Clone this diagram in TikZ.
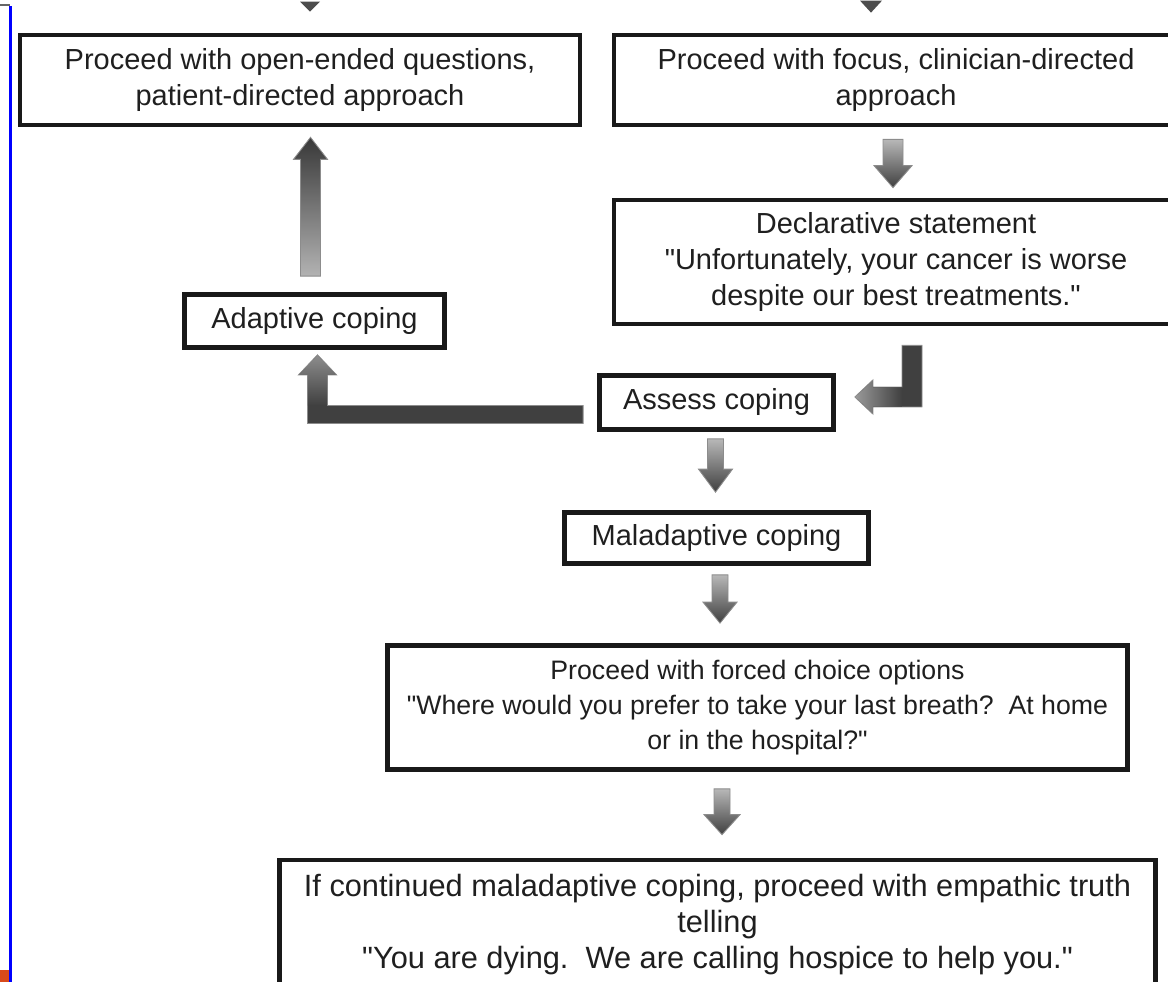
\documentclass[tikz,border=0pt]{standalone}
\usepackage{fontspec}
\setmainfont{Liberation Sans}
\usetikzlibrary{calc}
\def\pxu{0.02cm}
\def\pp{0.569055pt}
\def\q{\textquotedbl}
\definecolor{edgeorange}{RGB}{216,74,27}
% vertical block arrow: #1 start of shaft, #2 tip, #3 half shaft, #4 half head, #5 signed head length (px), #6 style
\newcommand\vblock[6]{%
  \shade[#6] let \p1=(#1), \p2=(#2) in
   ({\x1-#3*\pp},{\y1}) -- ({\x1-#3*\pp},{\y2+(#5)*\pp}) -- ({\x1-#4*\pp},{\y2+(#5)*\pp}) -- ({\x1},{\y2})
   -- ({\x1+#4*\pp},{\y2+(#5)*\pp}) -- ({\x1+#3*\pp},{\y2+(#5)*\pp}) -- ({\x1+#3*\pp},{\y1}) -- cycle;}
\begin{document}
\begin{tikzpicture}[x=0.02cm,y=-0.02cm,
  box/.style={draw=black!90, line width=2.7pt, fill=white, align=center, inner sep=0pt,
    font=\fontsize{16.5pt}{20.5pt}\selectfont, text=black!88},
  downshade/.style={top color=black!28, bottom color=black!75, draw=black!45, line width=0.5pt},
  upshade/.style={top color=black!78, bottom color=black!30, draw=black!45, line width=0.5pt},
  darkfill/.style={fill=black!75, draw=black!45, line width=0.5pt}]
\useasboundingbox (0,0) rectangle (1168,982);

% page edge marks
\fill[blue] (9,6) rectangle (12,982);
\fill[edgeorange] (0,970) rectangle (9,982);
\draw[black!60, line width=0.6pt] (0,5) -- (10,5);

% boxes
\node[box, minimum width=560*\pxu, minimum height=90*\pxu] (open) at (300,80)
  {Proceed with open-ended questions,\\patient-directed approach};
\node[box, minimum width=564*\pxu, minimum height=90*\pxu] (focus) at (896,80)
  {Proceed with focus, clinician-directed\\approach};
\node[box, minimum width=564*\pxu, minimum height=124*\pxu] (decl) at (896,262)
  {Declarative statement\\\q Unfortunately, your cancer is worse\\despite our best treatments.\q};
\node[box, minimum width=260*\pxu, minimum height=53*\pxu] (adapt) at (314.5,321)
  {Adaptive coping};
\node[box, minimum width=234*\pxu, minimum height=54*\pxu] (assess) at (716.5,402.5)
  {Assess coping};
\node[box, minimum width=304*\pxu, minimum height=51*\pxu] (mal) at (716.5,538)
  {Maladaptive coping};
\node[box, minimum width=740*\pxu, minimum height=124*\pxu, font=\fontsize{15.2pt}{20pt}\selectfont] (forced) at (757.5,707.5)
  {Proceed with forced choice options\\\q Where would you prefer to take your last breath?\ \ At home\\or in the hospital?\q};
\node[box, minimum width=876*\pxu, minimum height=130*\pxu, font=\fontsize{17.5pt}{20.5pt}\selectfont] (last) at (717.5,925)
  {If continued maladaptive coping, proceed with empathic truth\\telling\\\q You are dying.\ \ We are calling hospice to help you.\q};

% cut-off arrow tips at the top edge
\coordinate (f1) at ($(open.north)+(10,-21)$);
\coordinate (f2) at ($(focus.north)+(-25,-20)$);
\fill[black!70] ($(f1)+(-10,-10)$) -- ($(f1)+(10,-10)$) -- (f1) -- cycle;
\fill[black!70] ($(f2)+(-11,-12)$) -- ($(f2)+(11,-12)$) -- (f2) -- cycle;

% straight block arrows
\coordinate (u1s) at ($(adapt.north)+(-4,-16)$);
\coordinate (u1t) at ($(open.south)+(10,10)$);
\vblock{u1s}{u1t}{10}{17}{-22}{upshade}

\coordinate (d1s) at ($(focus.south)+(-3,12)$);
\coordinate (d1t) at ($(decl.north)+(-3,-10)$);
\vblock{d1s}{d1t}{10}{19}{22}{downshade}

\coordinate (d2s) at ($(assess.south)+(-1,7)$);
\coordinate (d2t) at ($(mal.north)+(-1,-18)$);
\vblock{d2s}{d2t}{8}{17}{23}{downshade}

\coordinate (d3s) at ($(mal.south)+(3.5,9)$);
\coordinate (d3t) at ($(forced.north)+(-37.5,-20)$);
\vblock{d3s}{d3t}{8}{17}{21}{downshade}

\coordinate (d4s) at ($(forced.south)+(-35.5,17)$);
\coordinate (d4t) at ($(last.north)+(4.5,-23)$);
\vblock{d4s}{d4t}{8}{18}{20}{downshade}

% L arrow: assess coping -> adaptive coping
\coordinate (L1s) at ($(assess.west)+(-14,12)$);
\coordinate (L1t) at ($(adapt.south)+(3,5)$);
\path[darkfill] let \p1=(L1s), \p2=(L1t) in
  ({\x1},{\y1+9*\pp}) -- ({\x2+10*\pp},{\y1+9*\pp}) -- ({\x2+10*\pp},{\y2-20*\pp}) -- ({\x2+19*\pp},{\y2-20*\pp})
  -- ({\x2},{\y2}) -- ({\x2-19*\pp},{\y2-20*\pp}) -- ({\x2-10*\pp},{\y2-20*\pp}) -- ({\x2-10*\pp},{\y1-9*\pp})
  -- ({\x1},{\y1-9*\pp}) -- cycle;
\shade[top color=black!45, bottom color=black!75] let \p1=(L1s), \p2=(L1t) in
  ({\x2+9.7*\pp},{\y1+9*\pp}) -- ({\x2+9.7*\pp},{\y2-20*\pp}) -- ({\x2+18.5*\pp},{\y2-20*\pp})
  -- ({\x2},{\y2-0.5*\pp}) -- ({\x2-18.5*\pp},{\y2-20*\pp}) -- ({\x2-9.7*\pp},{\y2-20*\pp}) -- ({\x2-9.7*\pp},{\y1+9*\pp}) -- cycle;

% L arrow: declarative statement -> assess coping
\coordinate (L2s) at ($(decl.south)+(16,19)$);
\coordinate (L2t) at ($(assess.east)+(19,-5.5)$);
\path[darkfill] let \p1=(L2s), \p2=(L2t) in
  ({\x1-10*\pp},{\y1}) -- ({\x1+10*\pp},{\y1}) -- ({\x1+10*\pp},{\y2-10*\pp}) -- ({\x2+18*\pp},{\y2-10*\pp})
  -- ({\x2+18*\pp},{\y2-17*\pp}) -- ({\x2},{\y2}) -- ({\x2+18*\pp},{\y2+17*\pp}) -- ({\x2+18*\pp},{\y2+10*\pp})
  -- ({\x1-10*\pp},{\y2+10*\pp}) -- cycle;
\shade[left color=black!40, right color=black!75] let \p1=(L2s), \p2=(L2t) in
  ({\x1-10*\pp},{\y2+9.7*\pp}) -- ({\x2+18*\pp},{\y2+9.7*\pp}) -- ({\x2+18*\pp},{\y2+16.5*\pp}) -- ({\x2+0.5*\pp},{\y2})
  -- ({\x2+18*\pp},{\y2-16.5*\pp}) -- ({\x2+18*\pp},{\y2-9.7*\pp}) -- ({\x1-10*\pp},{\y2-9.7*\pp}) -- cycle;
\end{tikzpicture}
\end{document}
